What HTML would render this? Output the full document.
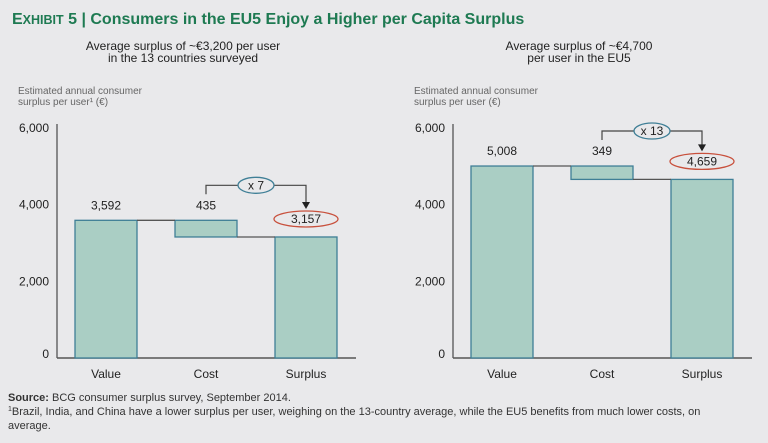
<!DOCTYPE html>
<html><head><meta charset="utf-8"><style>
body{margin:0;background:#e9e9eb;}
svg{display:block;font-family:"Liberation Sans",sans-serif;}
</style></head><body>
<svg width="768" height="443" viewBox="0 0 768 443">
<rect width="768" height="443" fill="#e9e9eb"/>
<text x="12" y="24" fill="#1e7a52" font-weight="bold" font-size="16"><tspan font-size="16">E</tspan><tspan font-size="12.5">XHIBIT</tspan> 5 | Consumers in the EU5 Enjoy a Higher per Capita Surplus</text>
<g id="charts"></g>
<text x="8" y="401" font-size="11" fill="#333"><tspan font-weight="bold">Source:</tspan> BCG consumer surplus survey, September 2014.</text>
<text x="8" y="415" font-size="11" fill="#333"><tspan font-size="7" dy="-4">1</tspan><tspan dy="4">Brazil, India, and China have a lower surplus per user, weighing on the 13-country average, while the EU5 benefits from much lower costs, on</tspan></text>
<text x="8" y="429" font-size="11" fill="#333">average.</text>
</svg>
<script>
const categories = ["Value","Cost","Surplus"];
const leftValues = [3592, 435, 3157];
const rightValues = [5008, 349, 4659];
const leftLabels = ["3,592","435","3,157"];
const rightLabels = ["5,008","349","4,659"];
const tickValues = [0,2000,4000,6000];
const tickLabels = ["0","2,000","4,000","6,000"];
const multipliers = ["x 7","x 13"];
const subtitles = [["Average surplus of ~€3,200 per user","in the 13 countries surveyed"],["Average surplus of ~€4,700","per user in the EU5"]];

const NS="http://www.w3.org/2000/svg";
const root=document.getElementById('charts');
function mk(tag,attrs,parent){const e=document.createElementNS(NS,tag);for(const k in attrs)e.setAttribute(k,attrs[k]);(parent||root).appendChild(e);return e;}
const y0=358, pxPer=(358-128)/6000;
function y(v){return y0-v*pxPer;}

function drawChart(idx,axisX,axisEnd,values,labels,mult){
  const g=mk('g',{});
  
  
  subtitles[idx].forEach((s,i)=>{const t=mk('text',{x:axisX+126,y:50+i*12,'text-anchor':'middle','font-size':12,fill:'#222'},g);t.textContent=s;
    });
  ["Estimated annual consumer","surplus per user"].forEach((s,i)=>{const t=mk('text',{x:axisX-39,y:94+i*11,'font-size':10,fill:'#666'},g);t.textContent=s+(i?(idx?" (€)":"¹ (€)"):"");
    });
  tickValues.forEach((v,i)=>{const t=mk('text',{x:axisX-8,y:y(v)+(v===0?0:4),'text-anchor':'end','font-size':12,fill:'#222'},g);t.textContent=tickLabels[i];
    });
  const ax=mk('line',{x1:axisX,y1:124,x2:axisX,y2:y0,stroke:'#555','stroke-width':1.3},g);
  
  const bx=mk('line',{x1:axisX,y1:y0,x2:axisEnd,y2:y0,stroke:'#555','stroke-width':1.5},g);
  
  const step=100, w=62, first=axisX+18;
  const xs=categories.map((c,i)=>first+i*step);
  const tops=[values[0],values[0],values[2]], bots=[0,values[0]-values[1],0];
  categories.forEach((c,i)=>{
    const r=mk('rect',{x:xs[i],y:y(tops[i]),width:w,height:y(bots[i])-y(tops[i]),fill:'#aacec4',stroke:'#3f7f96','stroke-width':1.3},g);
    
    const t=mk('text',{x:xs[i]+w/2,y:y0+20,'text-anchor':'middle','font-size':12,fill:'#222'},g);t.textContent=c;
    
  });
  const c1=mk('line',{x1:xs[0]+w,y1:y(values[0]),x2:xs[1],y2:y(values[0]),stroke:'#555','stroke-width':1.3},g);
  
  const c2=mk('line',{x1:xs[1]+w,y1:y(values[2]),x2:xs[2],y2:y(values[2]),stroke:'#555','stroke-width':1.3},g);
  
  [0,1].forEach(i=>{const t=mk('text',{x:xs[i]+w/2,y:y(values[0])-11,'text-anchor':'middle','font-size':12,fill:'#222'},g);t.textContent=labels[i];
    });
  const ecy=y(values[2])-18;
  const el=mk('ellipse',{cx:xs[2]+w/2,cy:ecy,rx:32,ry:8,fill:'none',stroke:'#c8503c','stroke-width':1.3},g);
  
  const st=mk('text',{x:xs[2]+w/2,y:ecy+4,'text-anchor':'middle','font-size':12,fill:'#222'},g);st.textContent=labels[2];
  
  const by=y(values[0])-35, lx=xs[1]+w/2, rx=xs[2]+w/2, tip=ecy-10;
  const p=mk('path',{d:`M${lx} ${by+9} V${by} H${rx} V${tip-4}`,fill:'none',stroke:'#444','stroke-width':1.2},g);
  
  const ar=mk('path',{d:`M${rx-4} ${tip-7} L${rx+4} ${tip-7} L${rx} ${tip} Z`,fill:'#222'},g);
  
  const mx=(lx+rx)/2;
  const me=mk('ellipse',{cx:mx,cy:by,rx:18,ry:8,fill:'#e9e9eb',stroke:'#3f7f96','stroke-width':1.3},g);
  
  const mt=mk('text',{x:mx,y:by+4,'text-anchor':'middle','font-size':12,fill:'#222'},g);mt.textContent=mult;
  
}
drawChart(0,57,356,leftValues,leftLabels,multipliers[0]);
drawChart(1,453,752,rightValues,rightLabels,multipliers[1]);
</script>
</body></html>
